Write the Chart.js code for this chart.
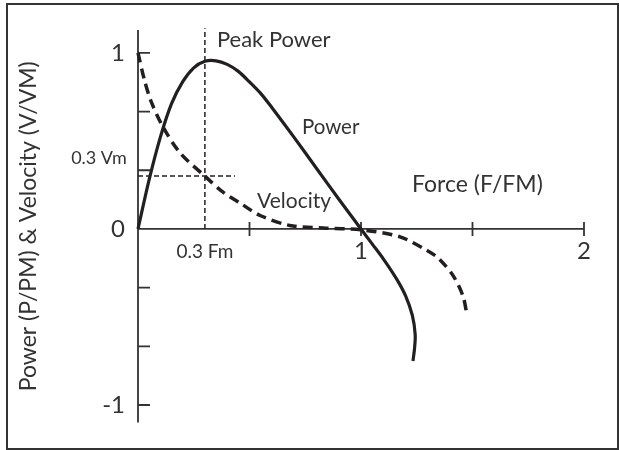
<!DOCTYPE html>
<html>
<head>
<meta charset="utf-8">
<script src="https://cdn.jsdelivr.net/npm/chart.js@4"></script>
<style>
  html, body { margin: 0; padding: 0; background: #fff; }
  #wrap { position: relative; width: 619px; height: 450px; }
</style>
</head>
<body>
<div id="wrap"><canvas id="myChart"></canvas></div>
<script>
// Force (F/FM) and the two normalised curves
var powerForce = [0, 0.05, 0.1, 0.15, 0.2, 0.25, 0.3, 0.35, 0.4, 0.45, 0.5, 0.55, 0.6, 0.7, 0.8, 0.9, 1, 1.05, 1.1, 1.16, 1.2, 1.23, 1.243, 1.24, 1.233];
var powerValues = [0, 0.28, 0.52, 0.71, 0.835, 0.915, 0.952, 0.955, 0.935, 0.895, 0.835, 0.77, 0.69, 0.52, 0.345, 0.17, 0, -0.085, -0.17, -0.285, -0.38, -0.49, -0.6, -0.68, -0.75];
var velocityForce = [0, 0.03, 0.06, 0.114, 0.19, 0.3, 0.38, 0.46, 0.55, 0.68, 0.83, 1, 1.175, 1.3, 1.35, 1.413, 1.457, 1.475];
var velocityValues = [1, 0.84, 0.72, 0.575, 0.43, 0.3, 0.21, 0.145, 0.075, 0.02, 0.005, -0.005, -0.045, -0.125, -0.17, -0.265, -0.38, -0.486];

// reference lines: 0.3 Fm and 0.3 Vm
var refForce = [0.3, 0.3];
var refForceY = [0, 1.14];
var refVelX = [0, 0.435];
var refVelY = [0.3, 0.3];

// axis ticks
var xTicks = [0, 0.5, 1, 1.5, 2];
var xTickLabels = ['', '', '1', '', '2'];
var yTicks = [-1, -2 / 3, -1 / 3, 0, 1 / 3, 2 / 3, 1];
var yTickLabels = ['-1', '', '', '0', '', '', '1'];

var FONT = 'Lato, "Liberation Sans", sans-serif';
var INK = '#231f20';

function pts(xs, ys) {
  return xs.map(function (x, i) { return { x: x, y: ys[i] }; });
}

// axis lines, inner tick marks, frame and the text notes
var axesPlugin = {
  id: 'axesPlugin',
  beforeDatasetsDraw: function (chart) {
    var ctx = chart.ctx;
    var xs = chart.scales.x, ys = chart.scales.y;
    var x0 = xs.getPixelForValue(0), y0 = ys.getPixelForValue(0);
    ctx.save();
    // frame
    ctx.strokeStyle = '#333';
    ctx.lineWidth = 2;
    ctx.strokeRect(7, 4, 611, 445);
    // axes
    ctx.lineWidth = 1.8;
    ctx.beginPath();
    ctx.moveTo(x0, chart.chartArea.top);
    ctx.lineTo(x0, chart.chartArea.bottom);
    ctx.moveTo(x0, y0);
    ctx.lineTo(xs.getPixelForValue(2), y0);
    yTicks.forEach(function (v) {
      if (v === 0) return;
      var p = ys.getPixelForValue(v);
      ctx.moveTo(x0, p);
      ctx.lineTo(x0 + 12, p);
    });
    xTicks.forEach(function (v) {
      if (v === 0) return;
      var p = xs.getPixelForValue(v);
      ctx.moveTo(p, y0 - 7);
      ctx.lineTo(p, y0 + 7);
    });
    ctx.stroke();
    ctx.restore();
  },
  afterDraw: function (chart) {
    var ctx = chart.ctx;
    var xs = chart.scales.x, ys = chart.scales.y;
    var notes = [
      { t: 'Peak Power', x: 0.354, y: 1.034, a: 'left', s: 22 },
      { t: 'Power', x: 0.735, y: 0.539, a: 'left', s: 20.5 },
      { t: 'Velocity', x: 0.534, y: 0.117, a: 'left', s: 21 },
      { t: 'Force (F/FM)', x: 1.229, y: 0.212, a: 'left', s: 23 },
      { t: '0.3 Vm', x: -0.05, y: 0.37, a: 'right', s: 18 },
      { t: '0.3 Fm', x: 0.3, y: -0.165, a: 'center', s: 19 }
    ];
    ctx.save();
    ctx.fillStyle = '#333';
    ctx.textBaseline = 'alphabetic';
    notes.forEach(function (n) {
      ctx.font = n.s + 'px ' + FONT;
      ctx.textAlign = n.a;
      ctx.fillText(n.t, xs.getPixelForValue(n.x), ys.getPixelForValue(n.y));
    });
    ctx.restore();
  }
};

var ctx = document.getElementById('myChart').getContext('2d');

var myChart = new Chart(ctx, {
  type: 'scatter',
  data: {
    datasets: [{
      label: 'Power',
      data: pts(powerForce, powerValues),
      showLine: true,
      borderColor: INK,
      borderWidth: 3.2,
      pointRadius: 0,
      tension: 0.3,
      clip: false
    }, {
      label: 'Velocity',
      data: pts(velocityForce, velocityValues),
      showLine: true,
      borderColor: INK,
      borderWidth: 3.5,
      borderDash: [10, 6],
      pointRadius: 0,
      tension: 0.3,
      clip: false
    }, {
      label: '0.3 Fm',
      data: pts(refForce, refForceY),
      showLine: true,
      borderColor: INK,
      borderWidth: 1.5,
      borderDash: [5, 3],
      pointRadius: 0,
      clip: false
    }, {
      label: '0.3 Vm',
      data: pts(refVelX, refVelY),
      showLine: true,
      borderColor: INK,
      borderWidth: 1.5,
      borderDash: [5, 3],
      pointRadius: 0,
      clip: false
    }]
  },
  options: {
    responsive: true,
    maintainAspectRatio: false,
    animation: false,
    layout: { padding: { left: 0, right: 35, top: 30, bottom: 24 } },
    plugins: { legend: { display: false }, tooltip: { enabled: false } },
    scales: {
      x: {
        type: 'linear',
        min: 0,
        max: 2,
        position: { y: 0 },
        afterBuildTicks: function (axis) {
          axis.ticks = xTicks.map(function (v) { return { value: v }; });
        },
        ticks: {
          padding: 8,
          color: '#333',
          font: { family: FONT, size: 24 },
          maxRotation: 0,
          autoSkip: false,
          callback: function (value, index) { return xTickLabels[index]; }
        },
        grid: { display: false, drawTicks: false },
        border: { display: false }
      },
      y: {
        type: 'linear',
        min: -1.1,
        max: 1.13,
        position: 'left',
        afterBuildTicks: function (axis) {
          axis.ticks = yTicks.map(function (v) { return { value: v }; });
        },
        afterFit: function (axis) { axis.width = 138; },
        ticks: {
          padding: 13,
          color: '#333',
          font: { family: FONT, size: 24 },
          autoSkip: false,
          callback: function (value, index) { return yTickLabels[index]; }
        },
        title: {
          display: true,
          text: 'Power (P/PM) & Velocity (V/VM)',
          color: '#333',
          font: { family: FONT, size: 23 },
          padding: { top: 15, bottom: 0 }
        },
        grid: { display: false, drawTicks: false },
        border: { display: false }
      }
    }
  },
  plugins: [axesPlugin]
});
</script>
</body>
</html>
